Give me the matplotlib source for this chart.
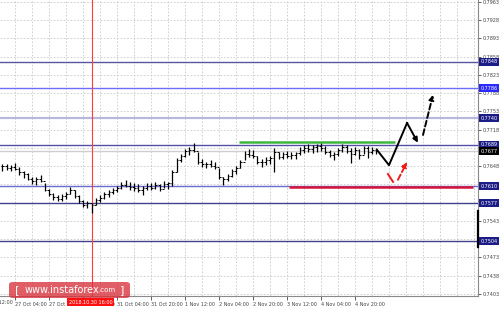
import numpy as np
import matplotlib
matplotlib.use("Agg")
import matplotlib.pyplot as plt
from matplotlib.patches import FancyBboxPatch

# 2-hour bars, x measured in hours from 27 Oct 04:00
bar_hours = np.arange(-6, 172, 2)
highs = [0.7652, 0.7653, 0.7651, 0.7655, 0.7646, 0.7638, 0.7635, 0.7628, 0.7627, 0.7631,
         0.7615, 0.7604, 0.7597, 0.7593, 0.7594, 0.7598, 0.7608, 0.7602, 0.7592, 0.7583,
         0.7581, 0.7578, 0.7588, 0.7592, 0.7598, 0.7602, 0.7607, 0.7611, 0.7617, 0.7621,
         0.7617, 0.7615, 0.7613, 0.7610, 0.7615, 0.7616, 0.7617, 0.7614, 0.7619, 0.7617,
         0.7640, 0.7664, 0.7671, 0.7681, 0.7685, 0.7693, 0.7675, 0.7661, 0.7657, 0.7659,
         0.7657, 0.7645, 0.7628, 0.7634, 0.7642, 0.7648, 0.7660, 0.7677, 0.7681, 0.7679,
         0.7668, 0.7661, 0.7665, 0.7667, 0.7683, 0.7675, 0.7676, 0.7678, 0.7675, 0.7676,
         0.7684, 0.7688, 0.7690, 0.7688, 0.7690, 0.7694, 0.7687, 0.7680, 0.7675, 0.7682,
         0.7690, 0.7688, 0.7683, 0.7684, 0.7681, 0.7686, 0.7687, 0.7684, 0.7683]
lows = [0.7639, 0.7641, 0.7638, 0.7641, 0.7632, 0.7625, 0.7621, 0.7614, 0.7612, 0.7617,
        0.7600, 0.7590, 0.7584, 0.7581, 0.7582, 0.7585, 0.7594, 0.7588, 0.7578, 0.7569,
        0.7567, 0.7558, 0.7573, 0.7579, 0.7585, 0.7589, 0.7594, 0.7598, 0.7604, 0.7608,
        0.7603, 0.7601, 0.7599, 0.7592, 0.7602, 0.7603, 0.7604, 0.7601, 0.7606, 0.7604,
        0.7610, 0.7636, 0.7656, 0.7666, 0.7670, 0.7676, 0.7652, 0.7647, 0.7644, 0.7646,
        0.7643, 0.7624, 0.7612, 0.7620, 0.7628, 0.7634, 0.7645, 0.7660, 0.7666, 0.7664,
        0.7653, 0.7647, 0.7651, 0.7653, 0.7637, 0.7661, 0.7662, 0.7664, 0.7661, 0.7662,
        0.7670, 0.7674, 0.7676, 0.7674, 0.7676, 0.7678, 0.7672, 0.7666, 0.7660, 0.7668,
        0.7676, 0.7674, 0.7654, 0.7670, 0.7662, 0.7672, 0.7664, 0.7671, 0.7672]
closes = [0.7648, 0.7645, 0.7647, 0.7643, 0.7636, 0.7633, 0.7624, 0.7619, 0.7623, 0.7620,
          0.7603, 0.7594, 0.7589, 0.7586, 0.7590, 0.7595, 0.7603, 0.7591, 0.7582, 0.7574,
          0.7577, 0.7573, 0.7584, 0.7587, 0.7594, 0.7598, 0.7603, 0.7607, 0.7612, 0.7611,
          0.7608, 0.7606, 0.7603, 0.7606, 0.7611, 0.7607, 0.7612, 0.7605, 0.7614, 0.7615,
          0.7637, 0.7659, 0.7667, 0.7677, 0.7680, 0.7678, 0.7657, 0.7652, 0.7653, 0.7649,
          0.7647, 0.7628, 0.7624, 0.7630, 0.7638, 0.7645, 0.7656, 0.7672, 0.7670, 0.7667,
          0.7657, 0.7656, 0.7660, 0.7663, 0.7676, 0.7665, 0.7671, 0.7668, 0.7670, 0.7673,
          0.7680, 0.7683, 0.7681, 0.7684, 0.7686, 0.7682, 0.7676, 0.7670, 0.7671, 0.7679,
          0.7685, 0.7678, 0.7672, 0.7680, 0.7670, 0.7682, 0.7676, 0.7679, 0.7677]

price_ticks = [0.7963, 0.7928, 0.7893, 0.7858, 0.7823, 0.7788, 0.7753, 0.7718, 0.7683,
               0.7648, 0.7613, 0.7578, 0.7543, 0.7508, 0.7473, 0.7438, 0.7403]
hidden_ticks = [0.7683, 0.7613, 0.7578, 0.7508]  # covered by level labels
time_ticks = [0, 16, 32, 48, 64, 80, 96, 112, 128, 144, 160]
time_labels = ["27 Oct 04:00", "27 Oct 20:00", "30 Oct 12:00", "31 Oct 04:00", "31 Oct 20:00",
               "1 Nov 12:00", "2 Nov 04:00", "2 Nov 20:00", "3 Nov 12:00", "4 Nov 04:00",
               "4 Nov 20:00"]

# horizontal levels: line price, label text
level_prices = [0.7848, 0.7798, 0.7740, 0.7689, 0.7677, 0.7610, 0.7577, 0.7504]
level_labels = ["0.7848", "0.7786", "0.7740", "0.7689", "0.7677", "0.7610", "0.7577", "0.7504"]
level_colors = ["#5656a2", "#6c6cff", "#b8b8de", "#5252a4", "#cfcfcf", "#6a6ad2", "#40408c", "#40408c"]
level_widths = [1.0, 1.0, 1.6, 1.0, 1.0, 1.0, 1.0, 1.0]
label_boxes = ["#1c1c86", "#2a2aff", "#1c1c86", "#1c1c86", "#000000", "#1c1c86", "#1c1c86", "#1c1c86"]

resistance = 0.7694
resistance_span = (105.4, 178.8)
support = 0.7609
support_span = (128.9, 215.5)
cursor_hour = 36.2

main_path_h = [170.4, 176.0, 184.5, 189.6]
main_path_p = [0.7679, 0.7650, 0.7731, 0.7693]
breakout_h = [192.0, 196.7]
breakout_p = [0.7708, 0.7785]
dip_h = [175.5, 177.9]
dip_p = [0.7633, 0.7618]
bounce_h = [180.2, 184.5]
bounce_p = [0.7622, 0.7656]

W, H = 500, 309
FS = 3.5
fig = plt.figure(figsize=(5, 3.09), dpi=100)
ax = fig.add_axes([0, 13 / H, 478 / W, 296 / H])
ax.set_xlim((0 - 15) / 2.125, (478 - 15) / 2.125)
ax.set_ylim(0.73991, 0.79668)

# grid
for p in price_ticks:
    ax.axhline(p, color="#c9c9c9", lw=0.6, ls=(0, (2, 2)), zorder=0)
for h in np.arange(-8, 220, 8):
    ax.axvline(h, color="#c9c9c9", lw=0.6, ls=(0, (2, 2)), zorder=0)

# levels
for p, c, w in zip(level_prices, level_colors, level_widths):
    ax.axhline(p, color=c, lw=w, zorder=1)

ax.axvline(cursor_hour, color="#ff3b3b", lw=0.8, zorder=2)

# OHLC bars
opens = [closes[0]] + closes[:-1]
ax.vlines(bar_hours, lows, highs, color="black", lw=0.9, zorder=3)
ax.hlines(closes, bar_hours, bar_hours + 0.8, color="black", lw=0.7, zorder=3)
ax.hlines(opens, bar_hours - 0.8, bar_hours, color="black", lw=0.7, zorder=3)

ax.hlines(resistance, *resistance_span, color="#3db83d", lw=1.8, zorder=4)
ax.hlines(support, *support_span, color="#d6143a", lw=1.8, zorder=4)

# forecast arrows
ax.plot(main_path_h[:3], main_path_p[:3], color="black", lw=1.4, zorder=5)
ax.annotate("", xy=(main_path_h[3], main_path_p[3]), xytext=(main_path_h[2], main_path_p[2]),
            arrowprops=dict(arrowstyle="-|>", color="black", lw=1.4, mutation_scale=7,
                            shrinkA=0, shrinkB=0), zorder=5)
ax.annotate("", xy=(breakout_h[1], breakout_p[1]), xytext=(breakout_h[0], breakout_p[0]),
            arrowprops=dict(arrowstyle="-|>", color="black", lw=1.4, ls=(0, (3, 1.5)),
                            mutation_scale=7, shrinkA=0, shrinkB=0), zorder=5)
ax.plot(dip_h, dip_p, color="#ee1c1c", lw=1.4, zorder=5)
ax.annotate("", xy=(bounce_h[1], bounce_p[1]), xytext=(bounce_h[0], bounce_p[0]),
            arrowprops=dict(arrowstyle="-|>", color="#ee1c1c", lw=1.4, ls=(0, (3, 1.5)),
                            mutation_scale=7, shrinkA=0, shrinkB=0), zorder=5)

# axes styling
for s in ["top", "left"]:
    ax.spines[s].set_visible(False)
for s in ["right", "bottom"]:
    ax.spines[s].set_color("#8a8a8a")
    ax.spines[s].set_linewidth(0.8)
ax.yaxis.tick_right()
ax.set_yticks(price_ticks)
ax.set_yticklabels(["" if p in hidden_ticks else f"{p:.4f}" for p in price_ticks])
ax.set_xticks(time_ticks)
ax.set_xticklabels(time_labels, ha="left")
ax.tick_params(axis="y", length=2, width=0.6, pad=1.5, labelsize=FS, colors="#444444")
ax.tick_params(axis="x", length=3, width=0.6, pad=1.5, labelsize=FS, colors="#444444")
ax.plot([1, 1], [0.166, 0.287], transform=ax.transAxes, color="black", lw=1.6, clip_on=False, zorder=6)

# level price labels on the right scale
for p, t, b in zip(level_prices, level_labels, label_boxes):
    ax.text(1.006, p, t, transform=ax.get_yaxis_transform(), fontsize=FS, color="white",
            va="center", ha="left", zorder=7,
            bbox=dict(boxstyle="square,pad=0.3", fc=b, ec="none"))

# partially visible first time label
fig.text(-19 / W, 1 - 302 / H, "26 Oct 12:00", fontsize=FS, color="#444444", va="center")

# cursor time label
fig.text(90.5 / W, 1 - 302 / H, "2018.10.30 16:00", fontsize=FS, color="white", ha="center",
         va="center", zorder=8, bbox=dict(boxstyle="square,pad=0.35", fc="#ff1010", ec="none"))

# watermark
wm = FancyBboxPatch((9 / W, 1 - 298 / H), 121 / W, 16 / H, boxstyle="round,pad=0,rounding_size=0.008",
                    transform=fig.transFigure, fc="#d8323c", ec="none", alpha=0.78, zorder=9)
fig.patches.append(wm)
fig.text(15 / W, 1 - 290 / H, "[", fontsize=8, color="white", va="center", zorder=10)
fig.text(25 / W, 1 - 290 / H, "www.instaforex", fontsize=7, color="white", va="center", zorder=10)
fig.text(98 / W, 1 - 290.5 / H, ".com", fontsize=5, color="white", va="center", zorder=10)
fig.text(120 / W, 1 - 290 / H, "]", fontsize=8, color="white", va="center", zorder=10)

fig.savefig("out.png", dpi=100)
